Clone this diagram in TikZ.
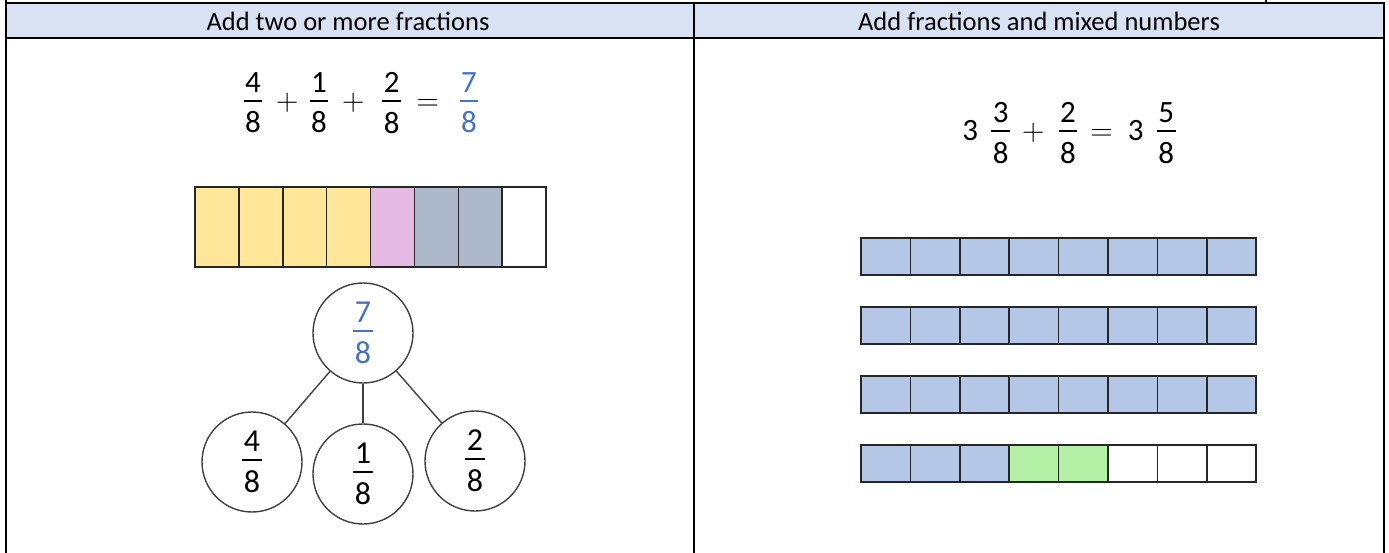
\documentclass[tikz,border=0pt]{standalone}
\usepackage{fix-cm}
\usepackage{amsmath}
\usepackage{fontspec}
\setmainfont{Carlito}
\usetikzlibrary{positioning}

\definecolor{headblue}{HTML}{D9E2F3}
\definecolor{partyellow}{HTML}{FFE699}
\definecolor{partpink}{HTML}{E4B9E2}
\definecolor{partgrey}{HTML}{ADB9CA}
\definecolor{partblue}{HTML}{B4C7E7}
\definecolor{partgreen}{HTML}{B4F0A6}
\definecolor{answerblue}{HTML}{4472C4}

% stacked fraction with the bar drawn in the current colour
\newcommand{\fracn}[2]{\ensuremath{\vcenter{\offinterlineskip\halign{\hfil\kern1.5pt##\kern1.5pt\hfil\cr #1\cr\noalign{\kern7pt\hrule height 2pt\kern10pt}#2\cr}}}}

\begin{document}
\begin{tikzpicture}[x=1pt, y=-1pt,
        heading/.style={font=\fontsize{26.5}{31}\selectfont},
        sum/.style={font=\fontsize{31}{36}\selectfont},
        part/.style={circle, draw=black!75, line width=1.4pt, minimum size=100pt, inner sep=0pt, font=\fontsize{32}{36}\selectfont},
        branch/.style={draw=black!75, line width=1.4pt},
        cell/.style={draw=black!85, line width=1.5pt},
        tableline/.style={line width=2pt}]
        \useasboundingbox (0,0) rectangle (1389,553);
        % table
        \fill[headblue] (6,3) rectangle (1384,38);
        \draw[tableline] (6,0) -- (6,553);
        \draw[tableline] (694,3) -- (694,553);
        \draw[tableline] (1384,3) -- (1384,553);
        \draw[tableline] (1266,0) -- (1266,3);
        \draw[tableline] (5,3) -- (1385,3);
        \draw[tableline] (5,38) -- (1385,38);
        \node[heading] (lefthead) at (348,21) {Add two or more fractions};
        \node[heading] (righthead) at (1039,21) {Add fractions and mixed numbers};
        % left column
        \node[sum] (leftsum) at (361,103) {$\fracn{4}{8}\mskip4mu+\mskip2.5mu\fracn{1}{8}\mskip4mu+\mskip6.5mu\fracn{2}{8}\mskip4mu=\mskip7mu{\color{answerblue}\fracn{7}{8}}$};
        \foreach \i/\c in {0/partyellow,1/partyellow,2/partyellow,3/partyellow,4/partpink,5/partgrey,6/partgrey,7/white}
            \filldraw[cell, fill=\c] (195+\i*43.875,187) rectangle ++(43.875,80);
        \node[part, text=answerblue] (whole) at (363,333) {\raisebox{-6pt}{\fracn{7}{8}}};
        \node[part] (four) at (252,462) {\raisebox{-5pt}{\fracn{4}{8}}};
        \node[part] (one) at (363,474) {\raisebox{-5pt}{\fracn{1}{8}}};
        \node[part] (two) at (475,461) {\raisebox{-5pt}{\fracn{2}{8}}};
        \draw[branch] (whole) -- (four);
        \draw[branch] (whole) -- (one);
        \draw[branch] (whole) -- (two);
        % right column
        \node[sum] (rightsum) at (1069,133) {$\mbox{3}\mskip7.7mu\fracn{3}{8}\mskip3mu+\mskip4.2mu\fracn{2}{8}\mskip2.6mu=\mskip3.8mu\mbox{3}\mskip7.7mu\fracn{5}{8}$};
        \foreach \row in {238,307,376}
            \foreach \i in {0,...,7}
                \filldraw[cell, fill=partblue] (861+\i*49.4,\row) rectangle ++(49.4,37);
        \foreach \i/\c in {0/partblue,1/partblue,2/partblue,3/partgreen,4/partgreen,5/white,6/white,7/white}
            \filldraw[cell, fill=\c] (861+\i*49.4,445) rectangle ++(49.4,37);
    \end{tikzpicture}
\end{document}
